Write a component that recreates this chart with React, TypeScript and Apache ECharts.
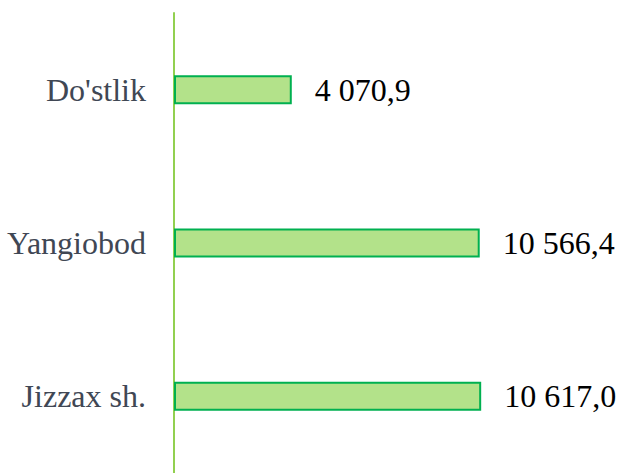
import React, { useEffect, useRef } from "react";
import * as echarts from "echarts";

const categories = ["Jizzax sh.", "Yangiobod", "Do'stlik"];
const values = [10617.0, 10566.4, 4070.9];

function fmt(v: number): string {
  const [i, d] = v.toFixed(1).split(".");
  return i.replace(/\B(?=(\d{3})+(?!\d))/g, " ") + "," + d;
}

export default function App() {
  const ref = useRef<HTMLDivElement>(null);
  useEffect(() => {
    if (!ref.current) return;
    const chart = echarts.init(ref.current, null, { renderer: "svg" });
    chart.setOption({
      animation: false,
      backgroundColor: "#ffffff",
      grid: { left: 174, right: 12, top: 13, height: 464 },
      xAxis: {
        type: "value",
        min: 0,
        max: 15000,
        show: false,
      },
      yAxis: {
        type: "category",
        data: categories,
        axisLine: { show: true, lineStyle: { color: "#92d050", width: 2 } },
        axisTick: { show: false },
        splitLine: { show: false },
        axisLabel: {
          fontFamily: "Liberation Serif",
          fontSize: 32,
          color: "#404754",
          margin: 28,
        },
      },
      series: [
        {
          type: "bar",
          data: values,
          barWidth: 29,
          itemStyle: { color: "#b3e28a", borderColor: "#00b050", borderWidth: 2 },
          label: {
            show: true,
            position: "right",
            distance: 23,
            fontFamily: "Liberation Serif",
            fontSize: 32,
            color: "#000000",
            formatter: (p: any) => fmt(p.value),
          },
        },
      ],
    });
    return () => chart.dispose();
  }, []);
  return (
    <div
      ref={ref}
      style={{ position: "fixed", left: 0, top: 0, width: 620, height: 473 }}
    />
  );
}
